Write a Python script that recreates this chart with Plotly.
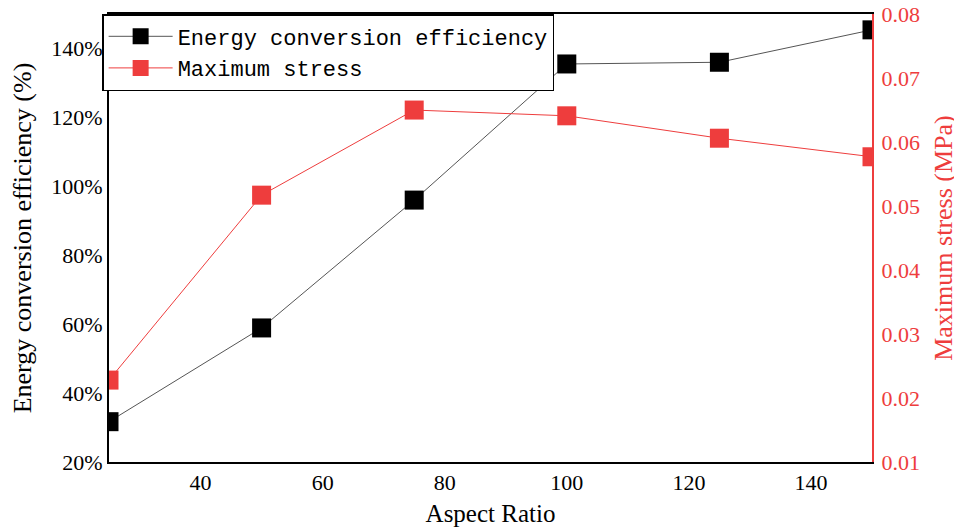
import plotly.graph_objects as go

aspect_ratio = [25, 50, 75, 100, 125, 150]
efficiency_pct = [31.7, 58.9, 96.0, 135.5, 136.0, 145.4]
max_stress_mpa = [0.0228, 0.0517, 0.0650, 0.0641, 0.0606, 0.0577]

left_ticks = [20, 40, 60, 80, 100, 120, 140]
left_labels = ["20%", "40%", "60%", "80%", "100%", "120%", "140%"]
right_ticks = [0.01, 0.02, 0.03, 0.04, 0.05, 0.06, 0.07, 0.08]
right_labels = ["0.01", "0.02", "0.03", "0.04", "0.05", "0.06", "0.07", "0.08"]
x_ticks = [40, 60, 80, 100, 120, 140]

RED = "#ee3d3d"
serif = "Liberation Serif"

fig = go.Figure()
fig.add_trace(go.Scatter(
    x=aspect_ratio, y=efficiency_pct, name="Energy conversion efficiency",
    mode="lines+markers",
    line=dict(color="#555555", width=1),
    marker=dict(symbol="square", size=19, color="black"),
    yaxis="y",
))
fig.add_trace(go.Scatter(
    x=aspect_ratio, y=max_stress_mpa, name="Maximum stress",
    mode="lines+markers",
    line=dict(color=RED, width=1),
    marker=dict(symbol="square", size=19, color=RED),
    yaxis="y2",
))
fig.add_trace(go.Scatter(x=[None], y=[None], xaxis="x2", showlegend=False, hoverinfo="skip"))

fig.update_layout(
    width=954, height=519,
    margin=dict(l=101, r=90, t=6, b=65, autoexpand=False),
    paper_bgcolor="white", plot_bgcolor="white",
    font=dict(family=serif, size=22, color="black"),
    showlegend=True,
    legend=dict(
        x=-0.009, y=1.0, xanchor="left", yanchor="top",
        bgcolor="white", bordercolor="black", borderwidth=1.5,
        font=dict(family="Liberation Mono", size=22, color="black"),
        tracegroupgap=0, itemwidth=64,
    ),
    xaxis=dict(
        range=[25, 150], tickvals=x_ticks, showgrid=False, zeroline=False,
        showline=True, linecolor="black", linewidth=2, mirror=False,
        ticks="", tickfont=dict(size=22), automargin=False,
        title=dict(text="Aspect Ratio", font=dict(size=25)),
    ),
    xaxis2=dict(
        range=[25, 150], overlaying="x", side="top", showticklabels=False,
        showgrid=False, zeroline=False, showline=True, linecolor="black", linewidth=2,
        automargin=False,
    ),
    yaxis=dict(
        range=[20, 150], tickvals=left_ticks, ticktext=left_labels,
        showgrid=False, zeroline=False, showline=True, linecolor="black", linewidth=2,
        ticks="", tickfont=dict(size=22), automargin=False,
        title=dict(text="Energy conversion efficiency (%)", font=dict(size=26)),
    ),
    yaxis2=dict(
        range=[0.01, 0.08001], tickvals=right_ticks, ticktext=right_labels,
        overlaying="y", side="right", ticklabelstandoff=3, ticklabeloverflow="allow",
        showgrid=False, zeroline=False, showline=True, linecolor=RED, linewidth=2,
        ticks="", tickfont=dict(size=22, color=RED), automargin=False,
        title=dict(text="Maximum stress (MPa)", font=dict(size=26, color=RED)),
    ),
)

fig.write_html("out.html")
